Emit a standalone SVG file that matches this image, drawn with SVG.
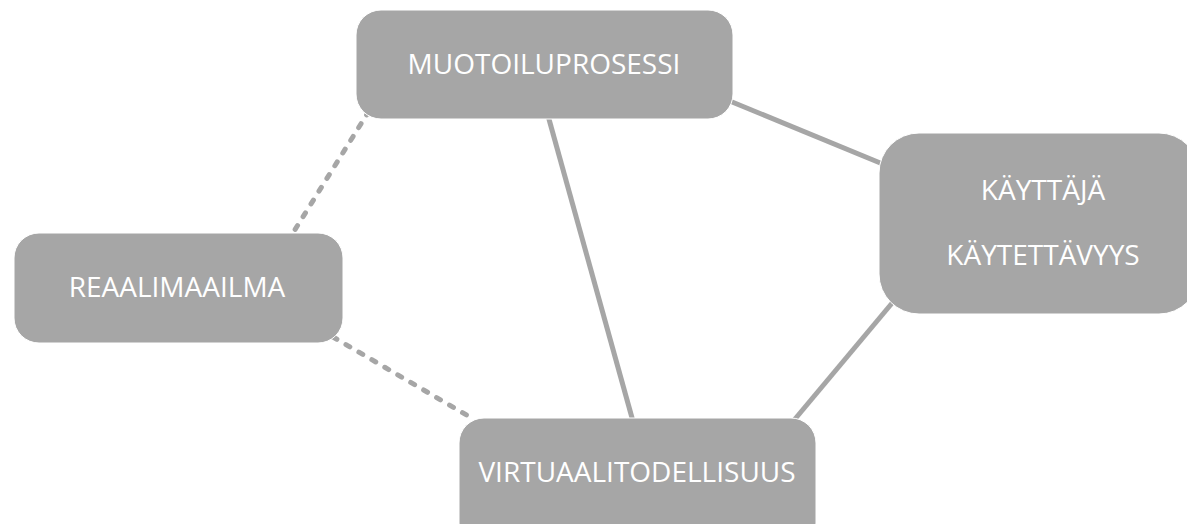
<svg xmlns="http://www.w3.org/2000/svg" width="1187" height="524" viewBox="0 0 1187 524">
<style>
.box{fill:#a6a6a6;stroke:#ffffff;stroke-width:1}
.lbl{fill:#ffffff;font-family:"Open Sans","Noto Sans","DejaVu Sans",sans-serif;font-size:28px;font-weight:400;text-anchor:middle}
.solid{stroke:#a6a6a6;stroke-width:5;fill:none}
.dash{stroke:#a6a6a6;stroke-width:5;fill:none;stroke-dasharray:4.5 10.5;stroke-linecap:round}
</style>
<rect width="1187" height="524" fill="#ffffff"/>
<g id="connectors">
<line class="solid" x1="720" y1="97" x2="890" y2="167"/>
<line class="solid" x1="547" y1="112" x2="634" y2="425"/>
<line class="solid" x1="898" y1="296" x2="790" y2="425"/>
<line class="dash" x1="369" y1="111" x2="291" y2="236"/>
<line class="dash" x1="333" y1="337" x2="475" y2="420"/>
</g>
<g id="muotoiluprosessi">
<rect class="box" x="356" y="10" width="377" height="109" rx="25"/>
<text class="lbl" x="544" y="74">MUOTOILUPROSESSI</text>
</g>
<g id="reaalimaailma">
<rect class="box" x="14" y="233" width="329" height="110" rx="25"/>
<text class="lbl" x="177" y="297">REAALIMAAILMA</text>
</g>
<g id="kayttaja">
<rect class="box" x="879" y="133" width="320" height="181" rx="40"/>
<text class="lbl" x="1043" y="200">KÄYTTÄJÄ</text>
<text class="lbl" x="1043" y="265">KÄYTETTÄVYYS</text>
</g>
<g id="virtuaalitodellisuus">
<rect class="box" x="459" y="418" width="357" height="130" rx="25"/>
<text class="lbl" x="637" y="482">VIRTUAALITODELLISUUS</text>
</g>
</svg>
